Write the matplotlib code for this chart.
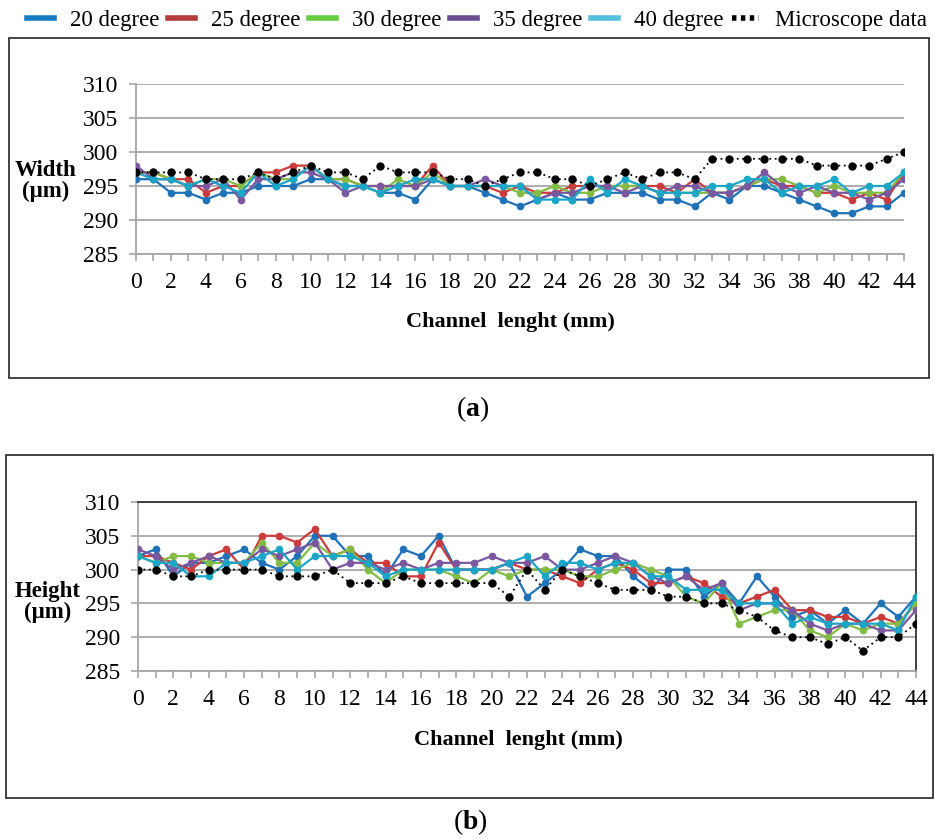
import numpy as np
import matplotlib
matplotlib.use('Agg')
import matplotlib.pyplot as plt
from matplotlib.lines import Line2D
from matplotlib.patches import Rectangle

plt.rcParams['font.family'] = ['Liberation Serif', 'DejaVu Serif']
plt.rcParams['mathtext.fontset'] = 'custom'
plt.rcParams['mathtext.rm'] = 'Liberation Serif'
plt.rcParams['mathtext.bf'] = 'Liberation Serif:bold'

##### datos
x = np.arange(0, 45)

series_names = ['20 degree', '25 degree', '30 degree', '35 degree', '40 degree']
colors = ['#1f72b8', '#cc3b3b', '#82bc45', '#7b57a0', '#1ba6c8']
legend_colors = ['#1a7abf', '#b33b3b', '#66cc44', '#6a4c93', '#55c0dd']

# (a) Width (um)
w_20 = [296, 296, 294, 294, 293, 294, 294, 295, 295, 295, 296, 296, 295, 295, 294,
        294, 293, 296, 295, 295, 294, 293, 292, 293, 294, 293, 293, 294, 294, 294,
        293, 293, 292, 294, 293, 295, 295, 294, 293, 292, 291, 291, 292, 292, 294]
w_25 = [297, 297, 296, 296, 294, 295, 295, 297, 297, 298, 298, 296, 296, 295, 295,
        295, 295, 298, 295, 295, 295, 294, 295, 294, 294, 295, 295, 295, 295, 295,
        295, 294, 296, 294, 294, 295, 296, 295, 295, 294, 294, 293, 294, 293, 297]
w_30 = [297, 297, 296, 295, 296, 296, 295, 297, 296, 296, 298, 296, 296, 295, 294,
        296, 295, 297, 295, 295, 295, 295, 294, 294, 295, 294, 294, 295, 295, 295,
        294, 294, 294, 294, 294, 295, 296, 296, 295, 294, 295, 294, 294, 294, 297]
w_35 = [298, 296, 296, 295, 295, 296, 293, 296, 296, 297, 297, 296, 294, 295, 295,
        295, 295, 296, 295, 295, 296, 295, 295, 293, 294, 294, 295, 295, 294, 295,
        294, 295, 295, 294, 294, 295, 297, 295, 294, 295, 294, 294, 293, 294, 296]
w_40 = [297, 296, 296, 295, 296, 295, 294, 297, 295, 296, 298, 296, 295, 295, 294,
        295, 296, 296, 295, 295, 295, 295, 295, 293, 293, 293, 296, 294, 296, 295,
        294, 294, 294, 295, 295, 296, 296, 294, 295, 295, 296, 294, 295, 295, 297]
w_micro = [297, 297, 297, 297, 296, 296, 296, 297, 296, 297, 298, 297, 297, 296, 298,
           297, 297, 297, 296, 296, 295, 296, 297, 297, 296, 296, 295, 296, 297, 296,
           297, 297, 296, 299, 299, 299, 299, 299, 299, 298, 298, 298, 298, 299, 300]

# (b) Height (um)
h_20 = [302, 303, 299, 301, 301, 302, 303, 301, 300, 302, 305, 305, 302, 302, 299,
        303, 302, 305, 300, 300, 300, 301, 296, 298, 300, 303, 302, 302, 299, 297,
        300, 300, 296, 298, 295, 299, 296, 293, 294, 292, 294, 292, 295, 293, 296]
h_25 = [302, 302, 301, 300, 302, 303, 300, 305, 305, 304, 306, 302, 303, 301, 301,
        299, 299, 304, 300, 300, 300, 301, 300, 300, 299, 298, 300, 301, 300, 298,
        298, 299, 298, 296, 295, 296, 297, 294, 294, 293, 293, 292, 293, 292, 295]
h_30 = [302, 301, 302, 302, 301, 301, 301, 304, 301, 301, 304, 302, 303, 300, 298,
        300, 300, 300, 299, 298, 300, 299, 300, 300, 300, 299, 299, 300, 301, 300,
        299, 296, 295, 298, 292, 293, 294, 294, 291, 290, 292, 291, 292, 292, 295]
h_35 = [303, 302, 300, 301, 302, 301, 301, 303, 302, 303, 304, 300, 301, 301, 300,
        301, 300, 301, 301, 301, 302, 301, 301, 302, 300, 300, 301, 302, 301, 299,
        298, 299, 297, 298, 294, 295, 295, 294, 292, 291, 292, 292, 291, 291, 294]
h_40 = [302, 301, 301, 299, 299, 301, 301, 302, 303, 300, 302, 302, 302, 301, 299,
        300, 300, 300, 300, 300, 300, 301, 302, 299, 301, 301, 300, 301, 301, 299,
        299, 297, 297, 297, 295, 295, 295, 292, 293, 292, 292, 292, 292, 291, 296]
h_micro = [300, 300, 299, 299, 300, 300, 300, 300, 299, 299, 299, 300, 298, 298, 298,
           299, 298, 298, 298, 298, 298, 296, 300, 297, 300, 299, 298, 297, 297, 297,
           296, 296, 295, 295, 294, 293, 291, 290, 290, 289, 290, 288, 290, 290, 292]

width_data = [w_20, w_25, w_30, w_35, w_40]
height_data = [h_20, h_25, h_30, h_35, h_40]

W, H = 935, 839
fig = plt.figure(figsize=(W / 100, H / 100), dpi=100)


def px_axes(l, t, r, b):
    return fig.add_axes([l / W, 1 - b / H, (r - l) / W, (b - t) / H])


def box(l, t, r, b):
    fig.patches.append(Rectangle((l / W, 1 - b / H), (r - l) / W, (b - t) / H,
                                 transform=fig.transFigure, fill=False,
                                 edgecolor='#222222', lw=1.2))


def grafica(ax, datos, micro, border):
    for y, c in zip(datos, colors):
        ax.plot(x, y, color=c, lw=1.6, marker='o', ms=4.5, zorder=3)
    ax.plot(x, micro, color='black', ls=(0, (1, 2)), lw=1.3, marker='o', ms=5, zorder=4)
    ax.set_xlim(0, 44)
    ax.set_ylim(285, 310)
    ax.set_yticks(np.arange(285, 311, 5))
    ax.set_xticks(np.arange(0, 45, 2))
    ax.set_xticks(np.arange(0, 45, 1), minor=True)
    ax.grid(axis='y', color='#a6a6a6', lw=1.3)
    ax.set_axisbelow(True)
    for s in ['left', 'bottom']:
        ax.spines[s].set_color('#a6a6a6')
        ax.spines[s].set_linewidth(1.3)
    for s in ['top', 'right']:
        if border:
            ax.spines[s].set_color('#333333')
            ax.spines[s].set_linewidth(1.3)
        else:
            ax.spines[s].set_visible(False)
    ax.tick_params(axis='both', which='both', color='#a6a6a6', width=1.2,
                   direction='out', labelsize=17)
    ax.tick_params(axis='x', which='both', length=5)
    ax.tick_params(axis='x', which='major', pad=8)
    ax.tick_params(axis='y', length=5, pad=8)


# (a)
box(9, 38, 929, 378)
ax1 = px_axes(136, 84, 904, 254)
grafica(ax1, width_data, w_micro, False)
fig.text(510 / W, 1 - 322 / H, 'Channel  lenght (mm)', ha='center', va='center',
         fontsize=16, fontweight='bold')
fig.text(46 / W, 1 - 181 / H, 'Width\n(\u03bcm)', ha='center', va='center',
         fontsize=16.5, fontweight='bold', linespacing=1.05)
fig.text(473 / W, 1 - 409 / H, r'($\mathbf{a}$)', ha='center', va='center', fontsize=20)

# (b)
box(6, 455, 933, 798)
ax2 = px_axes(138, 502, 916, 671)
grafica(ax2, height_data, h_micro, True)
fig.text(518 / W, 1 - 740 / H, 'Channel  lenght (mm)', ha='center', va='center',
         fontsize=16, fontweight='bold')
fig.text(48 / W, 1 - 602 / H, 'Height\n(\u03bcm)', ha='center', va='center',
         fontsize=16.5, fontweight='bold', linespacing=1.05)
fig.text(470 / W, 1 - 822 / H, r'($\mathbf{b}$)', ha='center', va='center', fontsize=20)

# leyenda
handles = [Line2D([], [], color=c, lw=4) for c in legend_colors]
handles.append(Line2D([], [], color='black', lw=4, ls=(0, (0.8, 0.8))))
labels = series_names + ['Microscope data']
fig.legend(handles, labels, loc='center', bbox_to_anchor=(477 / W, 1 - 20 / H), ncol=6,
           frameon=False, fontsize=16.5, handlelength=1.2, handletextpad=0.7,
           columnspacing=0.35, borderaxespad=0, borderpad=0)

fig.savefig('out.png', dpi=100)
